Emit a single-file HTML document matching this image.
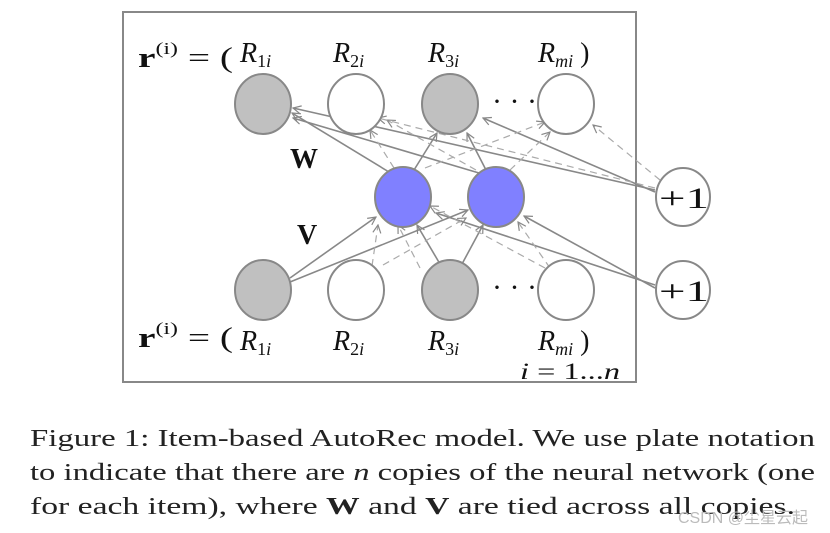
<!DOCTYPE html>
<html><head><meta charset="utf-8"><style>
body{margin:0;background:#fff;width:830px;height:533px;overflow:hidden;position:relative;font-family:"Liberation Serif",serif}
.wm{position:absolute;left:678px;top:504px;font-size:16px;color:#bbb;font-family:"Liberation Sans","Noto Sans CJK SC",sans-serif}
</style></head><body>
<svg width="830" height="533" style="position:absolute;left:0;top:0" font-family="Liberation Serif, serif">
<defs>
<marker id="a" markerWidth="10" markerHeight="10" refX="9" refY="5" orient="auto" markerUnits="userSpaceOnUse"><path d="M1,1 L9,5 L1,9" fill="none" stroke="#888" stroke-width="1.2"/></marker>
</defs>
<rect x="123" y="12" width="513" height="370" fill="none" stroke="#888" stroke-width="2"/>
<g stroke="#888" stroke-width="1.6" fill="none" marker-end="url(#a)">
<line x1="389" y1="172" x2="292" y2="113"/>
<line x1="414" y1="170" x2="437" y2="133"/>
<line x1="479" y1="173" x2="293" y2="118"/>
<line x1="486" y1="170" x2="467" y2="133"/>
<line x1="655" y1="190" x2="293" y2="108"/>
<line x1="655" y1="192" x2="483" y2="118"/>
<line x1="290" y1="278" x2="376" y2="217"/>
<line x1="290" y1="282" x2="468" y2="210"/>
<line x1="440" y1="264" x2="417" y2="225"/>
<line x1="462" y1="264" x2="483" y2="225"/>
<line x1="655" y1="285" x2="436" y2="213"/>
<line x1="655" y1="288" x2="524" y2="216"/>
</g>
<g stroke="#aaa" stroke-width="1.2" fill="none" stroke-dasharray="7,5" marker-end="url(#a)">
<line x1="394" y1="168" x2="370" y2="130"/>
<line x1="425" y1="168" x2="545" y2="122"/>
<line x1="476" y1="170" x2="387" y2="120"/>
<line x1="510" y1="170" x2="550" y2="132"/>
<line x1="655" y1="188" x2="378" y2="118"/>
<line x1="660" y1="180" x2="593" y2="125"/>
<line x1="372" y1="266" x2="378" y2="225"/>
<line x1="383" y1="265" x2="466" y2="218"/>
<line x1="545" y1="268" x2="430" y2="206"/>
<line x1="550" y1="268" x2="518" y2="222"/>
<line x1="420" y1="268" x2="398" y2="225"/>
</g>
<g stroke="#888" stroke-width="2">
<ellipse cx="263" cy="104" rx="28" ry="30" fill="#c0c0c0"/>
<ellipse cx="356" cy="104" rx="28" ry="30" fill="#fff"/>
<ellipse cx="450" cy="104" rx="28" ry="30" fill="#c0c0c0"/>
<ellipse cx="566" cy="104" rx="28" ry="30" fill="#fff"/>
<ellipse cx="403" cy="197" rx="28" ry="30" fill="#8080ff"/>
<ellipse cx="496" cy="197" rx="28" ry="30" fill="#8080ff"/>
<ellipse cx="263" cy="290" rx="28" ry="30" fill="#c0c0c0"/>
<ellipse cx="356" cy="290" rx="28" ry="30" fill="#fff"/>
<ellipse cx="450" cy="290" rx="28" ry="30" fill="#c0c0c0"/>
<ellipse cx="566" cy="290" rx="28" ry="30" fill="#fff"/>
<ellipse cx="683" cy="197" rx="27" ry="29" fill="#fff"/>
<ellipse cx="683" cy="290" rx="27" ry="29" fill="#fff"/>
</g>
<g font-size="30" fill="#111">
<text x="659" y="208" textLength="50" lengthAdjust="spacingAndGlyphs">+1</text><text x="659" y="301" textLength="50" lengthAdjust="spacingAndGlyphs">+1</text>
<text x="492" y="111">· · ·</text><text x="492" y="297">· · ·</text>
</g>
<g font-size="28" fill="#111">
<text x="138" y="67" textLength="95" lengthAdjust="spacingAndGlyphs"><tspan font-weight="bold">r</tspan><tspan font-size="17" dy="-13">(i)</tspan><tspan dy="13"> = (</tspan></text>
<text x="138" y="347" textLength="95" lengthAdjust="spacingAndGlyphs"><tspan font-weight="bold">r</tspan><tspan font-size="17" dy="-13">(i)</tspan><tspan dy="13"> = (</tspan></text>
<g font-style="italic">
<text x="240" y="62">R<tspan font-size="18" dy="5" font-style="normal">1</tspan><tspan font-size="18">i</tspan></text>
<text x="333" y="62">R<tspan font-size="18" dy="5" font-style="normal">2</tspan><tspan font-size="18">i</tspan></text>
<text x="428" y="62">R<tspan font-size="18" dy="5" font-style="normal">3</tspan><tspan font-size="18">i</tspan></text>
<text x="538" y="62">R<tspan font-size="18" dy="5">mi</tspan><tspan dy="-5" font-style="normal"> )</tspan></text>
<text x="240" y="350">R<tspan font-size="18" dy="5" font-style="normal">1</tspan><tspan font-size="18">i</tspan></text>
<text x="333" y="350">R<tspan font-size="18" dy="5" font-style="normal">2</tspan><tspan font-size="18">i</tspan></text>
<text x="428" y="350">R<tspan font-size="18" dy="5" font-style="normal">3</tspan><tspan font-size="18">i</tspan></text>
<text x="538" y="350">R<tspan font-size="18" dy="5">mi</tspan><tspan dy="-5" font-style="normal"> )</tspan></text>
</g>
<text x="290" y="168" font-weight="bold">W</text>
<text x="297" y="244" font-weight="bold">V</text>
<text x="520" y="379" font-size="23" textLength="100" lengthAdjust="spacingAndGlyphs"><tspan font-style="italic">i</tspan> = 1...<tspan font-style="italic">n</tspan></text>
</g>
<g font-size="24" fill="#222">
<text x="30" y="446" textLength="785" lengthAdjust="spacingAndGlyphs">Figure 1: Item-based AutoRec model. We use plate notation</text>
<text x="30" y="480" textLength="785" lengthAdjust="spacingAndGlyphs">to indicate that there are <tspan font-style="italic">n</tspan> copies of the neural network (one</text>
<text x="30" y="514" textLength="765" lengthAdjust="spacingAndGlyphs">for each item), where <tspan font-weight="bold">W</tspan> and <tspan font-weight="bold">V</tspan> are tied across all copies.</text>
</g>
</svg>
<div class="wm">CSDN @尘星云起</div>
</body></html>
